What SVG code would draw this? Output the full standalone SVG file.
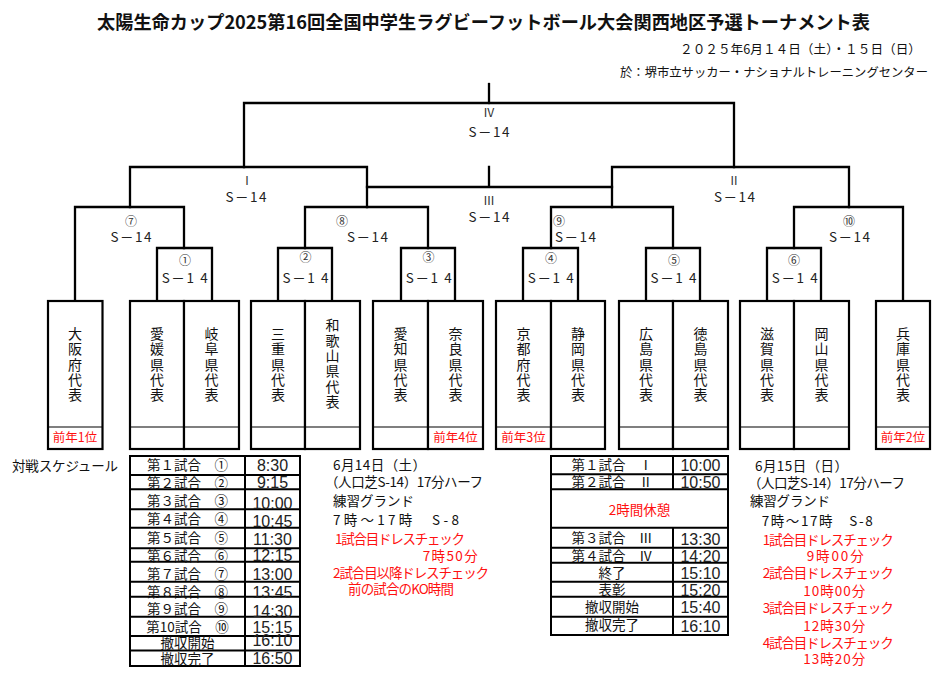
<svg xmlns="http://www.w3.org/2000/svg" width="943" height="675" viewBox="0 0 943 675">
<style>
.t{font-family:"Noto Sans CJK JP","Noto Sans",sans-serif;fill:#111}
.m{text-anchor:middle}
.e{text-anchor:end}
.red{fill:#ff1010}
.lb{font-size:13.5px;fill:#222}
.cn{font-size:12px;fill:#333}
.rn{font-size:12px;fill:#333}
.tm{font-family:"Liberation Sans","Noto Sans",sans-serif;font-size:16px;fill:#222;text-anchor:middle}
.team{font-size:14px;writing-mode:vertical-rl;text-anchor:middle;letter-spacing:1.3px}
.ln{stroke:#000;stroke-width:2.3;fill:none;stroke-linecap:square}
.bx{fill:#fff;stroke:#000;stroke-width:2.2}
.th{stroke:#000;stroke-width:1.2}
.tb{stroke:#000;stroke-width:2;fill:none}
.s13{font-size:13.5px}
</style>
<rect width="943" height="675" fill="#fff"/>

<g id="header">
<text class="t m" x="483.5" y="29" font-size="18.5" font-weight="bold" textLength="773" lengthAdjust="spacingAndGlyphs">太陽生命カップ2025第16回全国中学生ラグビーフットボール大会関西地区予選トーナメント表</text>
<text class="t e" x="921" y="53.5" font-size="12.5" textLength="241" lengthAdjust="spacingAndGlyphs">２０２５年6月１４日（土）・１５日（日）</text>
<text class="t e" x="928" y="76.5" font-size="12.5" textLength="308" lengthAdjust="spacingAndGlyphs">於：堺市立サッカー・ナショナルトレーニングセンター</text>
</g>

<g id="connectors">
<path class="ln" d="M489,84V103"/>
<path class="ln" d="M244,167V103H734V167"/>
<path class="ln" d="M130,207V167H367V207"/>
<path class="ln" d="M612,207V167H849V207"/>
<path class="ln" d="M367,187H612M489,167V187"/>
<path class="ln" d="M75,301V207H184V248"/>
<path class="ln" d="M157,301V248H212V301"/>
<path class="ln" d="M305,248V207H428V248"/>
<path class="ln" d="M278,301V248H332V301"/>
<path class="ln" d="M401,301V248H455V301"/>
<path class="ln" d="M551,248V207H673V248"/>
<path class="ln" d="M523,301V248H578V301"/>
<path class="ln" d="M646,301V248H700V301"/>
<path class="ln" d="M794,248V207H903V301"/>
<path class="ln" d="M767,301V248H821V301"/>
</g>

<g id="match-labels" class="t">
<text class="rn m" x="489" y="117">Ⅳ</text>
<text class="lb m" x="489" y="137" textLength="41">S－14</text>
<text class="rn m" x="247" y="185">Ⅰ</text>
<text class="lb m" x="246" y="201.5" textLength="41">S－14</text>
<text class="rn m" x="489" y="205">Ⅲ</text>
<text class="lb m" x="489" y="221.5" textLength="41">S－14</text>
<text class="rn m" x="734" y="185">Ⅱ</text>
<text class="lb m" x="734.5" y="201.5" textLength="41">S－14</text>
<text class="cn m" x="131" y="226">⑦</text>
<text class="lb m" x="131" y="242" textLength="41">S－14</text>
<text class="cn m" x="342" y="226">⑧</text>
<text class="lb m" x="367.5" y="242" textLength="41">S－14</text>
<text class="cn m" x="559" y="226">⑨</text>
<text class="lb m" x="575.5" y="242" textLength="41">S－14</text>
<text class="cn m" x="849" y="226">⑩</text>
<text class="lb m" x="849.5" y="242" textLength="41">S－14</text>
<text class="cn m" x="185" y="265">①</text>
<text class="lb m" x="184.7" y="283" textLength="46">S－1 4</text>
<text class="cn m" x="305.5" y="262">②</text>
<text class="lb m" x="305.5" y="283" textLength="46">S－1 4</text>
<text class="cn m" x="428.5" y="262">③</text>
<text class="lb m" x="428.8" y="283" textLength="46">S－1 4</text>
<text class="cn m" x="551" y="262.5">④</text>
<text class="lb m" x="550.8" y="283" textLength="46">S－1 4</text>
<text class="cn m" x="674" y="265">⑤</text>
<text class="lb m" x="673.5" y="283" textLength="46">S－1 4</text>
<text class="cn m" x="794" y="265">⑥</text>
<text class="lb m" x="794.8" y="283" textLength="46">S－1 4</text>
</g>

<g id="team-osaka">
<rect class="bx" x="48" y="301" width="54.5" height="148"/>
<line class="th" x1="48" y1="427" x2="102.5" y2="427"/>
<text class="t team" x="75" y="365">大阪府代表</text>
<text class="t red m" x="75" y="442" font-size="12.5">前年1位</text>
</g>
<g id="team-ehime">
<rect class="bx" x="130" y="301" width="54" height="148"/>
<line class="th" x1="130" y1="427" x2="184" y2="427"/>
<text class="t team" x="157" y="365">愛媛県代表</text>
</g>
<g id="team-gifu">
<rect class="bx" x="184" y="301" width="55" height="148"/>
<line class="th" x1="184" y1="427" x2="239" y2="427"/>
<text class="t team" x="211.5" y="365">岐阜県代表</text>
</g>
<g id="team-mie">
<rect class="bx" x="251" y="301" width="54" height="148"/>
<line class="th" x1="251" y1="427" x2="305" y2="427"/>
<text class="t team" x="278" y="365">三重県代表</text>
</g>
<g id="team-wakayama">
<rect class="bx" x="305" y="301" width="55" height="148"/>
<line class="th" x1="305" y1="427" x2="360" y2="427"/>
<text class="t team" x="332.5" y="364">和歌山県代表</text>
</g>
<g id="team-aichi">
<rect class="bx" x="373" y="301" width="55" height="148"/>
<line class="th" x1="373" y1="427" x2="428" y2="427"/>
<text class="t team" x="400.5" y="365">愛知県代表</text>
</g>
<g id="team-nara">
<rect class="bx" x="428" y="301" width="55" height="148"/>
<line class="th" x1="428" y1="427" x2="483" y2="427"/>
<text class="t team" x="455.5" y="365">奈良県代表</text>
<text class="t red m" x="455.5" y="442" font-size="12.5">前年4位</text>
</g>
<g id="team-kyoto">
<rect class="bx" x="496" y="301" width="55" height="148"/>
<line class="th" x1="496" y1="427" x2="551" y2="427"/>
<text class="t team" x="523.5" y="365">京都府代表</text>
<text class="t red m" x="523.5" y="442" font-size="12.5">前年3位</text>
</g>
<g id="team-shizuoka">
<rect class="bx" x="551" y="301" width="54" height="148"/>
<line class="th" x1="551" y1="427" x2="605" y2="427"/>
<text class="t team" x="578" y="365">静岡県代表</text>
</g>
<g id="team-hiroshima">
<rect class="bx" x="619" y="301" width="54" height="148"/>
<line class="th" x1="619" y1="427" x2="673" y2="427"/>
<text class="t team" x="646" y="365">広島県代表</text>
</g>
<g id="team-tokushima">
<rect class="bx" x="673" y="301" width="55" height="148"/>
<line class="th" x1="673" y1="427" x2="728" y2="427"/>
<text class="t team" x="700.5" y="365">徳島県代表</text>
</g>
<g id="team-shiga">
<rect class="bx" x="740" y="301" width="54" height="148"/>
<line class="th" x1="740" y1="427" x2="794" y2="427"/>
<text class="t team" x="767" y="365">滋賀県代表</text>
</g>
<g id="team-okayama">
<rect class="bx" x="794" y="301" width="55" height="148"/>
<line class="th" x1="794" y1="427" x2="849" y2="427"/>
<text class="t team" x="821.5" y="365">岡山県代表</text>
</g>
<g id="team-hyogo">
<rect class="bx" x="876" y="301" width="54" height="148"/>
<line class="th" x1="876" y1="427" x2="930" y2="427"/>
<text class="t team" x="903" y="365">兵庫県代表</text>
<text class="t red m" x="903" y="442" font-size="12.5">前年2位</text>
</g>

<g id="schedule-day1">
<text class="t" x="12" y="470.5" font-size="13.5" textLength="106">対戦スケジュール</text>
<rect class="tb" x="130" y="456" width="170" height="210" fill="#fff"/>
<path class="tb" d="M245,456V666M130,475H300M130,489.3H300M130,509.3H300M130,527.7H300M130,548.3H300M130,561.7H300M130,581.7H300M130,596.7H300M130,616.7H300M130,636H300M130,650.5H300"/>
<g class="t s13 m">
<text x="187.5" y="470">第１試合　①</text>
<text x="187.5" y="488">第２試合　②</text>
<text x="187.5" y="506">第３試合　③</text>
<text x="187.5" y="524.3">第４試合　④</text>
<text x="187.5" y="543.3">第５試合　⑤</text>
<text x="187.5" y="561">第６試合　⑥</text>
<text x="187.5" y="579">第７試合　⑦</text>
<text x="187.5" y="596.5">第８試合　⑧</text>
<text x="187.5" y="614.3">第９試合　⑨</text>
<text x="187.5" y="631.7">第10試合　⑩</text>
<text x="187.5" y="648">撤収開始</text>
<text x="187.5" y="664">撤収完了</text>
</g>
<text class="tm" x="272.5" y="471">8:30</text>
<text class="tm" x="272.5" y="488.3">9:15</text>
<text class="tm" x="272.5" y="508.7">10:00</text>
<text class="tm" x="272.5" y="526.7">10:45</text>
<text class="tm" x="272.5" y="545.3">11:30</text>
<text class="tm" x="272.5" y="561">12:15</text>
<text class="tm" x="272.5" y="580">13:00</text>
<text class="tm" x="272.5" y="597.7">13:45</text>
<text class="tm" x="272.5" y="616.5">14:30</text>
<text class="tm" x="272.5" y="633">15:15</text>
<text class="tm" x="272.5" y="646.3">16:10</text>
<text class="tm" x="272.5" y="664">16:50</text>
<g class="t s13">
<text x="333" y="470" textLength="93">6月14日（土）</text>
<text x="325" y="487" textLength="158">（人口芝S-14）17分ハーフ</text>
<text x="333" y="505.5" textLength="81">練習グランド</text>
<text x="333" y="525" textLength="126">7時～17時　S-8</text>
<text class="red" x="335" y="544" textLength="130">1試合目ドレスチェック</text>
<text class="red" x="422.7" y="561" textLength="55">7時50分</text>
<text class="red" x="333" y="578" textLength="156">2試合目以降ドレスチェック</text>
<text class="red" x="348" y="594" textLength="106">前の試合のKO時間</text>
</g>
</g>

<g id="schedule-day2">
<rect class="tb" x="551" y="456" width="177" height="179" fill="#fff"/>
<path class="tb" d="M673,456V489.3M673,527.7V635M551,474.3H728M551,489.3H728M551,527.7H728M551,547.7H728M551,562.7H728M551,581.7H728M551,596.7H728M551,616.7H728"/>
<g class="t s13 m">
<text x="612" y="470">第１試合　Ⅰ</text>
<text x="612" y="487">第２試合　Ⅱ</text>
<text class="red" x="639.5" y="515">2時間休憩</text>
<text x="612" y="543">第３試合　Ⅲ</text>
<text x="612" y="561">第４試合　Ⅳ</text>
<text x="612" y="577.7">終了</text>
<text x="612" y="595">表彰</text>
<text x="612" y="611.7">撤収開始</text>
<text x="612" y="630">撤収完了</text>
</g>
<text class="tm" x="700.5" y="471">10:00</text>
<text class="tm" x="700.5" y="488.3">10:50</text>
<text class="tm" x="700.5" y="545.3">13:30</text>
<text class="tm" x="700.5" y="562">14:20</text>
<text class="tm" x="700.5" y="579.3">15:10</text>
<text class="tm" x="700.5" y="596">15:20</text>
<text class="tm" x="700.5" y="613.3">15:40</text>
<text class="tm" x="700.5" y="632">16:10</text>
<g class="t s13">
<text x="755" y="470.5" textLength="93">6月15日（日）</text>
<text x="748" y="488" textLength="157">（人口芝S-14）17分ハーフ</text>
<text x="750" y="505.5" textLength="80">練習グランド</text>
<text x="761.7" y="525.5" textLength="111">7時～17時　S-8</text>
<text class="red" x="762.7" y="545" textLength="131">1試合目ドレスチェック</text>
<text class="red" x="806.7" y="561" textLength="57">9時00分</text>
<text class="red" x="762.7" y="578" textLength="131">2試合目ドレスチェック</text>
<text class="red" x="803.3" y="595.5" textLength="62">10時00分</text>
<text class="red" x="762.7" y="613" textLength="131">3試合目ドレスチェック</text>
<text class="red" x="803.3" y="631" textLength="62">12時30分</text>
<text class="red" x="762.7" y="647.5" textLength="131">4試合目ドレスチェック</text>
<text class="red" x="803.3" y="664" textLength="62">13時20分</text>
</g>
</g>
</svg>
